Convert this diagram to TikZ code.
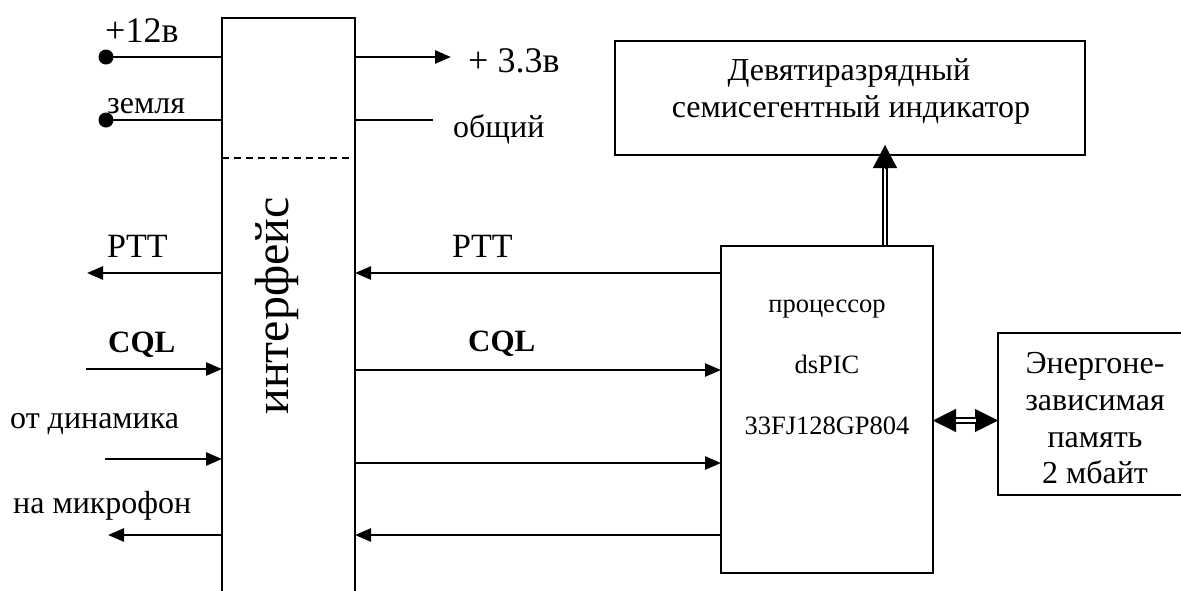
\documentclass[tikz,border=0pt]{standalone}
\usepackage{fontspec}
\setmainfont{Liberation Serif}
\usetikzlibrary{arrows.meta}
\begin{document}
\begin{tikzpicture}[x=1pt,y=-1pt,
  box/.style={draw,line width=2pt,inner sep=0pt,outer sep=0pt},
  wire/.style={line width=2.6pt},
  thinwire/.style={line width=2pt},
  arr/.style={line width=2.6pt,-{Triangle[length=16pt,width=13pt]}},
  lbl/.style={inner sep=0pt,anchor=base west},
  ctr/.style={inner sep=0pt,anchor=base},
  fA/.style={font=\fontsize{36}{40}\selectfont},
  fB/.style={font=\fontsize{32}{36}\selectfont},
  fC/.style={font=\fontsize{26.5}{30}\selectfont},
  dot/.style={circle,fill,minimum size=15pt,inner sep=0pt},
  dbl/.style={line width=1.7pt,double distance=2.4pt},
  bigtip/.style={line width=0.4pt,-{Triangle[length=23pt,width=24pt]}}
]
\useasboundingbox (0,0) rectangle (1181,590);
\clip (0,0) rectangle (1181,590);

% boxes
\node[box,minimum width=133pt,minimum height=602pt] (intf) at (288.5,319) {};
\node[box,minimum width=470pt,minimum height=114pt] (ind) at (850,98) {};
\node[box,minimum width=212pt,minimum height=327pt] (proc) at (827,409.5) {};
\node[box,minimum width=210pt,minimum height=162pt] (mem) at (1103,414) {};

% interface label and dashed separator
\node[ctr,rotate=90,font=\fontsize{48}{52}\selectfont] (intfLabel) at (288,306) {интерфейс};
\coordinate (dsh) at (0,158);
\draw[line width=2pt,dash pattern=on 7pt off 5pt] (intf.west |- dsh) -- (intf.east |- dsh);

% left power inputs
\node[dot] (d12) at (106,57) {};
\node[dot] (dgnd) at (106,120) {};
\draw[wire] (d12.center) -- (intf.west |- d12);
\draw[wire] (dgnd.center) -- (intf.west |- dgnd);
\node[lbl,fA] (t12) at (105,42) {+12в};
\node[lbl,fB] (tgnd) at (107,113) {земля};

% right power outputs
\coordinate (v33) at (451,57);
\coordinate (gnd) at (433,120);
\draw[arr] (intf.east |- v33) -- (v33);
\draw[thinwire] (intf.east |- gnd) -- (gnd);
\node[lbl,fA] (t33) at (468,72) {+ 3.3в};
\node[lbl,fB] (tcom) at (453,137) {общий};

% left signals
\coordinate (pttL) at (87,273);
\coordinate (cqlL) at (86,369);
\coordinate (dinL) at (105,459);
\coordinate (micL) at (108,535);
\draw[arr] (intf.west |- pttL) -- (pttL);
\draw[arr] (cqlL) -- (intf.west |- cqlL);
\draw[arr] (dinL) -- (intf.west |- dinL);
\draw[arr] (intf.west |- micL) -- (micL);
\node[lbl,font=\fontsize{34}{38}\selectfont] (tpttL) at (107,257) {PTT};
\node[lbl,font=\fontsize{31}{35}\bfseries\selectfont] (tcqlL) at (108,352) {CQL};
\node[lbl,fB] (tdin) at (10,428) {от динамика};
\node[lbl,fB] (tmic) at (13,513) {на микрофон};

% interface <-> processor
\coordinate (r1) at (0,273);
\coordinate (r2) at (0,370);
\coordinate (r3) at (0,463);
\coordinate (r4) at (0,535);
\draw[arr] (proc.west |- r1) -- (intf.east |- r1);
\draw[arr] (intf.east |- r2) -- (proc.west |- r2);
\draw[arr] (intf.east |- r3) -- (proc.west |- r3);
\draw[arr] (proc.west |- r4) -- (intf.east |- r4);
\node[lbl,font=\fontsize{34}{38}\selectfont] (tpttR) at (452,257) {PTT};
\node[lbl,font=\fontsize{31}{35}\bfseries\selectfont] (tcqlR) at (468,351) {CQL};

% indicator text
\node[ctr,fB] (ind1) at (849,80) {Девятиразрядный};
\node[ctr,fB] (ind2) at (851,117) {семисегентный индикатор};

% processor text
\node[ctr,fC] (p1) at (827,312) {процессор};
\node[ctr,fC] (p2) at (827,373) {dsPIC};
\node[ctr,fC] (p3) at (827,434) {33FJ128GP804};

% memory text
\node[ctr,fB] (m1) at (1095,373) {Энергоне-};
\node[ctr,fB] (m2) at (1095,410) {зависимая};
\node[ctr,fB] (m3) at (1095,447) {память};
\node[ctr,fB] (m4) at (1095,483) {2 мбайт};

% processor -> indicator (double arrow)
\coordinate (upBase) at (885,168);
\coordinate (upTip) at (885,145);
\draw[dbl,shorten <=1pt] (proc.north -| upBase) -- (upBase);
\draw[bigtip] (upBase) -- (upTip);

% processor <-> memory (double arrow)
\coordinate (hy) at (0,420.5);
\coordinate (hL) at (956,420.5);
\coordinate (hR) at (976,420.5);
\draw[line width=0.4pt,{Triangle[length=23pt,width=23pt]}-{Triangle[length=23pt,width=23pt]}] (proc.east |- hy) -- (mem.west |- hy);
\draw[dbl,double distance=3pt] (hL) -- (hR);
\end{tikzpicture}
\end{document}
